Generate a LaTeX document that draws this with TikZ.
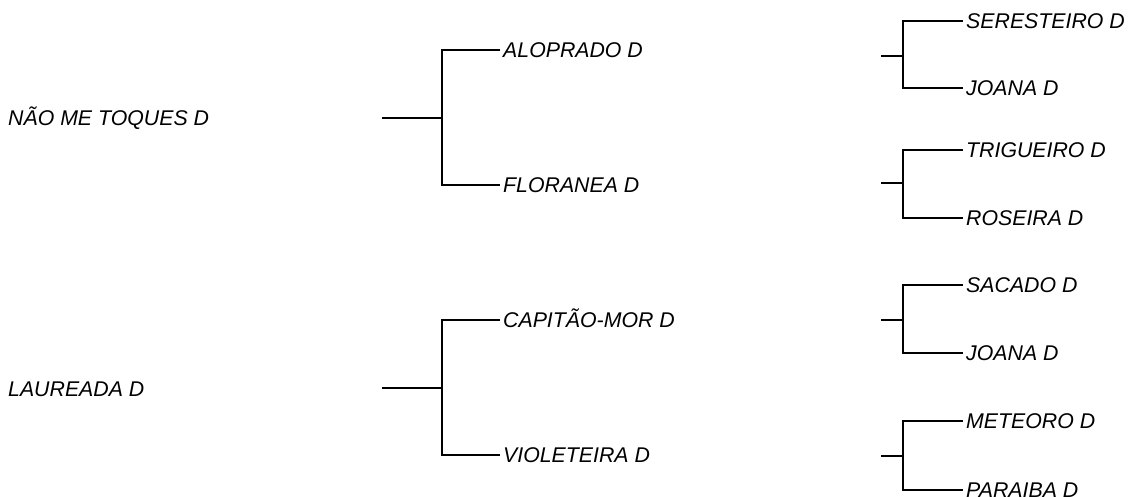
\documentclass[tikz,border=0pt]{standalone}
\usepackage{fontspec}
\setmainfont{Liberation Sans}
\begin{document}
\begin{tikzpicture}[x=1pt,y=-1pt,
  lbl/.style={anchor=west,inner xsep=3pt,inner ysep=0pt,text height=15.2pt,text depth=0pt,
    font=\fontsize{21.3}{25}\selectfont\itshape},
  branch/.style={line width=2.4pt,line join=miter,black}]
\useasboundingbox (0,0) rectangle (1128,497);
% left labels
\node[lbl] (n1) at (5,118) {NÃO ME TOQUES D};
\node[lbl] (n2) at (5,389) {LAUREADA D};
% middle group 1
\coordinate (s1) at (382,118);
\coordinate (j1) at (442,118);
\node[lbl] (alo) at (500,50) {ALOPRADO D};
\node[lbl] (flo) at (500,185) {FLORANEA D};
\draw[branch] (s1) -- (j1);
\draw[branch] (alo.west) -| (j1) |- (flo.west);
% middle group 2
\coordinate (s2) at (382,388);
\coordinate (j2) at (442,388);
\node[lbl] (cap) at (500,320) {CAPITÃO-MOR D};
\node[lbl] (vio) at (500,455) {VIOLETEIRA D};
\draw[branch] (s2) -- (j2);
\draw[branch] (cap.west) -| (j2) |- (vio.west);
% right groups
\coordinate (r1s) at (881,56);
\coordinate (r1j) at (903,56);
\node[lbl] (ser) at (963,21) {SERESTEIRO D};
\node[lbl] (joa1) at (963,88) {JOANA D};
\draw[branch] (r1s) -- (r1j);
\draw[branch] (ser.west) -| (r1j) |- (joa1.west);
\coordinate (r2s) at (881,183);
\coordinate (r2j) at (903,183);
\node[lbl] (tri) at (963,150) {TRIGUEIRO D};
\node[lbl] (ros) at (963,218) {ROSEIRA D};
\draw[branch] (r2s) -- (r2j);
\draw[branch] (tri.west) -| (r2j) |- (ros.west);
\coordinate (r3s) at (881,320);
\coordinate (r3j) at (903,320);
\node[lbl] (sac) at (963,285) {SACADO D};
\node[lbl] (joa2) at (963,353) {JOANA D};
\draw[branch] (r3s) -- (r3j);
\draw[branch] (sac.west) -| (r3j) |- (joa2.west);
\coordinate (r4s) at (881,456);
\coordinate (r4j) at (903,456);
\node[lbl] (met) at (963,421) {METEORO D};
\node[lbl] (par) at (963,490) {PARAIBA D};
\draw[branch] (r4s) -- (r4j);
\draw[branch] (met.west) -| (r4j) |- (par.west);
\end{tikzpicture}
\end{document}
